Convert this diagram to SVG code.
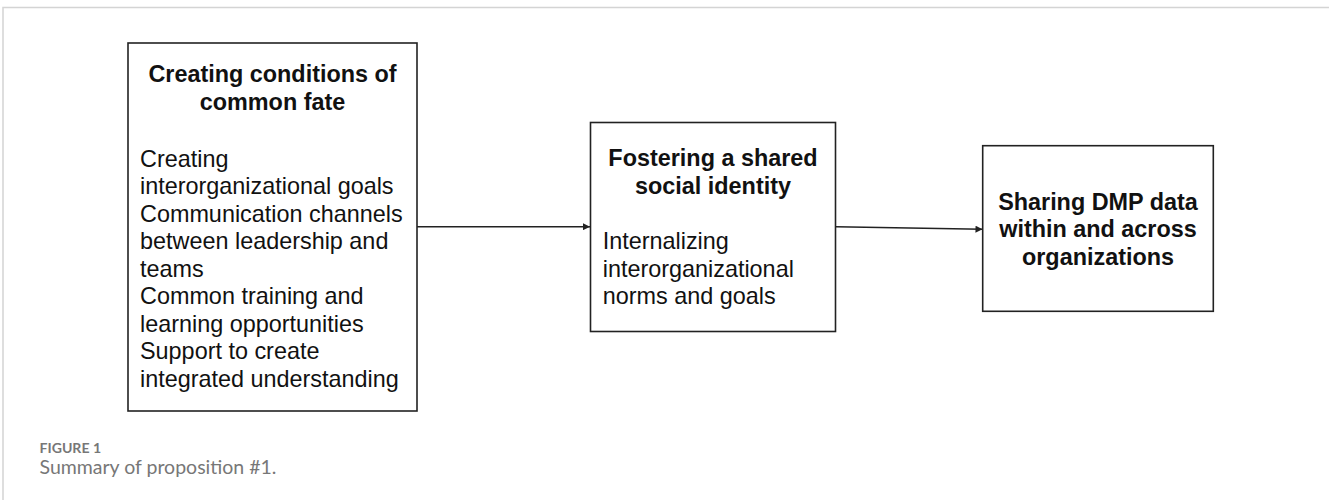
<svg xmlns="http://www.w3.org/2000/svg" width="1329" height="500" viewBox="0 0 1329 500">
<style>
.box{fill:#fff;stroke:#222;stroke-width:1.6}
.t{font-family:"Liberation Sans",Arial,sans-serif;font-size:23.4px;fill:#111}
.b{font-weight:bold;text-anchor:middle}
.edge{stroke:#222;stroke-width:1.6;fill:none}
.cap{font-family:Lato,"Open Sans",sans-serif;fill:#777}
</style>
<defs>
<marker id="ah" viewBox="0 0 10 10" refX="10" refY="5" markerWidth="8" markerHeight="7" markerUnits="userSpaceOnUse" orient="auto">
<path d="M0,0 L10,5 L0,10 z" fill="#222"/>
</marker>
</defs>
<rect width="1329" height="500" fill="#fff"/>
<path d="M3,500 V7.5 H1329" fill="none" stroke="#d4d4d4" stroke-width="1.5"/>
<g id="connectors">
<line class="edge" x1="417" y1="226.7" x2="590" y2="226.7" marker-end="url(#ah)"/>
<line class="edge" x1="836" y1="226.7" x2="982.5" y2="229.3" marker-end="url(#ah)"/>
</g>
<g id="node1">
<rect class="box" x="128" y="43" width="289" height="368"/>
<text class="t b" x="272.5" y="81.7">Creating conditions of</text>
<text class="t b" x="272.5" y="110">common fate</text>
<text class="t" x="140" y="166.7">Creating</text>
<text class="t" x="140" y="194.2">interorganizational goals</text>
<text class="t" x="140" y="221.7">Communication channels</text>
<text class="t" x="140" y="249.2">between leadership and</text>
<text class="t" x="140" y="276.7">teams</text>
<text class="t" x="140" y="304.2">Common training and</text>
<text class="t" x="140" y="331.7">learning opportunities</text>
<text class="t" x="140" y="359.2">Support to create</text>
<text class="t" x="140" y="386.7">integrated understanding</text>
</g>
<g id="node2">
<rect class="box" x="590.5" y="122.5" width="245" height="209"/>
<text class="t b" x="713" y="166">Fostering a shared</text>
<text class="t b" x="713" y="193.5">social identity</text>
<text class="t" x="602.7" y="249.3">Internalizing</text>
<text class="t" x="602.7" y="276.7">interorganizational</text>
<text class="t" x="602.7" y="304">norms and goals</text>
</g>
<g id="node3">
<rect class="box" x="982.7" y="145.7" width="230.6" height="165.6"/>
<text class="t b" x="1098" y="210">Sharing DMP data</text>
<text class="t b" x="1098" y="237.3">within and across</text>
<text class="t b" x="1098" y="265">organizations</text>
</g>
<g id="caption">
<text class="cap" x="39.5" y="453.3" font-size="14.1" font-weight="bold">FIGURE 1</text>
<text class="cap" x="39.5" y="474.3" font-size="19.5">Summary of proposition #1.</text>
</g>
</svg>
